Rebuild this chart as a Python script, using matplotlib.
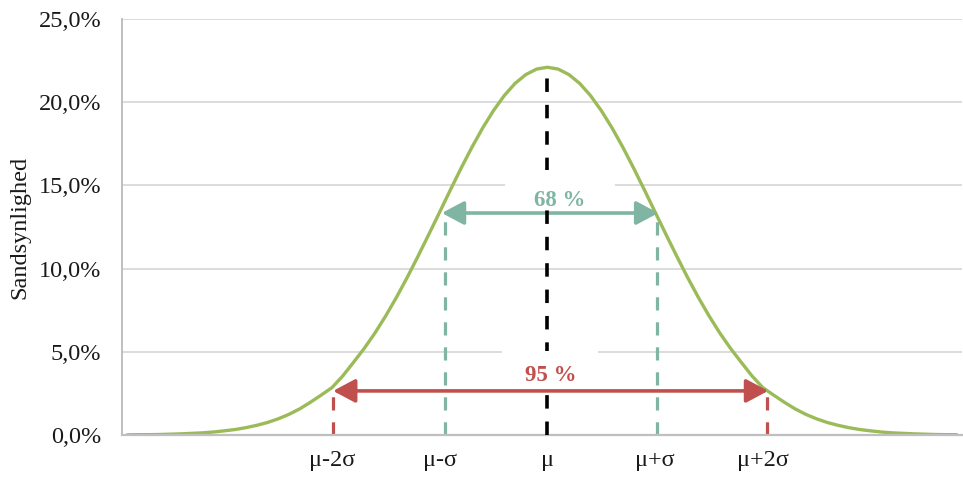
import numpy as np
import matplotlib
matplotlib.use("Agg")
import matplotlib.pyplot as plt
from matplotlib.patches import Rectangle, FancyArrowPatch

plt.rcParams['font.family'] = ['Liberation Serif', 'DejaVu Serif']
plt.rcParams['lines.scale_dashes'] = False

# ---- data (x in units of sigma from the mean, y in %) ----
x_sigma = np.round(np.arange(-3.9, 3.81, 0.1), 1)
probability = [0.01, 0.02, 0.02, 0.03, 0.05, 0.07, 0.10, 0.13, 0.18, 0.25,
               0.33, 0.44, 0.58, 0.75, 0.97, 1.24, 1.57, 1.97, 2.40, 2.85,
               3.55, 4.37, 5.21, 6.14, 7.17, 8.29, 9.49, 10.76, 12.07, 13.40,
               14.74, 16.05, 17.30, 18.46, 19.50, 20.40, 21.13, 21.66, 21.99, 22.10,
               21.99, 21.66, 21.13, 20.40, 19.50, 18.46, 17.30, 16.05, 14.74, 13.40,
               12.07, 10.76, 9.49, 8.29, 7.17, 6.14, 5.21, 4.37, 3.55, 2.85,
               2.40, 1.97, 1.57, 1.24, 0.97, 0.75, 0.58, 0.44, 0.33, 0.25,
               0.18, 0.13, 0.10, 0.07, 0.05, 0.03, 0.02, 0.02]
xtick_pos = [-2, -1, 0, 1, 2]
xtick_labels = ['μ-2σ', 'μ-σ', 'μ', 'μ+σ', 'μ+2σ']
ytick_vals = [0, 5, 10, 15, 20, 25]
ytick_labels = ['0,0%', '5,0%', '10,0%', '15,0%', '20,0%', '25,0%']
peak_value = 22.1
one_sigma_height = 13.34
two_sigma_height = 2.65
label_68 = '68 %'
label_95 = '95 %'
ylabel = 'Sandsynlighed'

GREEN = '#9BBB59'
TEAL = '#7FB5A2'
RED = '#C0504D'
GRID = '#D9D9D9'
TXT = '#1a1a1a'

fig = plt.figure(figsize=(9.63, 4.84), dpi=100)
ax = fig.add_axes([122/963, 1-435/484, (962-122)/963, (435-19)/484])
ax.set_xlim(-3.95, 3.85)
ax.set_ylim(0, 25)

for v in ytick_vals[1:]:
    ax.axhline(v, color=GRID, lw=1.3, zorder=0.5)

ax.plot(x_sigma, probability, color=GREEN, lw=2.4, zorder=2, solid_capstyle='round')

# vertical guide lines
ax.plot([-0.95, -0.95], [0, one_sigma_height], color=TEAL, lw=2.3, dashes=(9.5, 8.5), zorder=2)
ax.plot([1.02, 1.02], [0, one_sigma_height], color=TEAL, lw=2.3, dashes=(9.5, 8.5), zorder=2)
ax.plot([-1.99, -1.99], [0, two_sigma_height], color=RED, lw=2.3, dashes=(9.5, 8.5), zorder=2)
ax.plot([2.04, 2.04], [0, two_sigma_height], color=RED, lw=2.3, dashes=(9.5, 8.5), zorder=2)
ax.plot([0, 0], [0, peak_value], color='black', lw=2.6, dashes=(9.7, 9.3), zorder=4)

# arrows
for (x0, x1, yv, c) in [(-0.98, 1.03, one_sigma_height, TEAL), (-1.99, 2.05, two_sigma_height, RED)]:
    arr = FancyArrowPatch((x0, yv), (x1, yv), arrowstyle='<|-|>,head_length=0.75,head_width=0.4',
                          mutation_scale=18, color=c, lw=2.6, zorder=3, shrinkA=0, shrinkB=0)
    ax.add_patch(arr)

# white label boxes
ax.add_patch(Rectangle((-0.39, 13.6), 1.02, 2.3, facecolor='white', edgecolor='none', zorder=5))
ax.add_patch(Rectangle((-0.42, 2.95), 0.89, 2.12, facecolor='white', edgecolor='none', zorder=5))

ax.text(0.11, 14.1, label_68, color=TEAL, fontsize=16.5, fontweight='bold', ha='center', va='center', zorder=6)
ax.text(0.03, 3.58, label_95, color=RED, fontsize=16.5, fontweight='bold', ha='center', va='center', zorder=6)

ax.set_xticks(xtick_pos)
ax.set_xticklabels(xtick_labels, fontsize=17.5)
ax.set_yticks(ytick_vals)
ax.set_yticklabels(ytick_labels, fontsize=17.5)
ax.tick_params(axis='both', length=0, colors=TXT)
ax.tick_params(axis='y', pad=15)
ax.tick_params(axis='x', pad=11)

for s in ['top', 'right']:
    ax.spines[s].set_visible(False)
ax.spines['left'].set_color('#BFBFBF')
ax.spines['left'].set_linewidth(1.4)
ax.spines['bottom'].set_color('#BFBFBF')
ax.spines['bottom'].set_linewidth(1.6)

fig.text(20/963, 1-227/484, ylabel, rotation=90, fontsize=17.5, ha='center', va='center', color=TXT)

fig.savefig('out.png', dpi=100)
